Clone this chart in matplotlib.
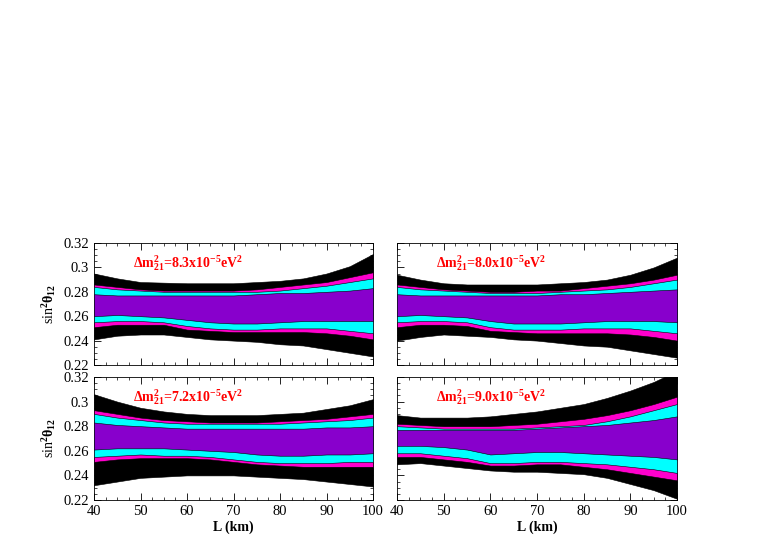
import matplotlib
matplotlib.use("Agg")
import matplotlib.pyplot as plt
from matplotlib.ticker import MultipleLocator

plt.rcParams["font.family"] = "Liberation Serif"
plt.rcParams["mathtext.fontset"] = "custom"
plt.rcParams["mathtext.rm"] = "Liberation Serif:bold"
plt.rcParams["mathtext.it"] = "Liberation Serif:bold"
plt.rcParams["mathtext.bf"] = "Liberation Serif:bold"

L = [40, 45, 50, 55, 60, 65, 70, 75, 80, 85, 90, 95, 100]

labels = ["8.3", "8.0", "7.2", "9.0"]

# each panel: black_top, mag_top, cyan_top, purple_top, purple_bot, cyan_bot, mag_bot, black_bot
p83 = [
    [0.295, 0.291, 0.288, 0.2875, 0.287, 0.287, 0.287, 0.288, 0.289, 0.291, 0.295, 0.301, 0.311],
    [0.286, 0.284, 0.282, 0.281, 0.281, 0.281, 0.281, 0.282, 0.284, 0.286, 0.288, 0.292, 0.296],
    [0.284, 0.282, 0.281, 0.280, 0.280, 0.280, 0.280, 0.280, 0.281, 0.283, 0.285, 0.288, 0.291],
    [0.278, 0.277, 0.277, 0.277, 0.277, 0.277, 0.277, 0.278, 0.279, 0.279, 0.280, 0.281, 0.283],
    [0.260, 0.261, 0.260, 0.259, 0.257, 0.255, 0.254, 0.254, 0.255, 0.256, 0.256, 0.256, 0.256],
    [0.255, 0.256, 0.256, 0.255, 0.252, 0.250, 0.249, 0.249, 0.250, 0.250, 0.250, 0.248, 0.246],
    [0.251, 0.253, 0.253, 0.253, 0.249, 0.248, 0.247, 0.247, 0.247, 0.247, 0.246, 0.244, 0.241],
    [0.241, 0.244, 0.245, 0.245, 0.243, 0.241, 0.240, 0.239, 0.237, 0.236, 0.233, 0.230, 0.227],
]
p80 = [
    [0.294, 0.290, 0.287, 0.286, 0.286, 0.286, 0.286, 0.287, 0.288, 0.290, 0.294, 0.300, 0.308],
    [0.286, 0.284, 0.282, 0.281, 0.280, 0.280, 0.281, 0.281, 0.283, 0.285, 0.287, 0.290, 0.294],
    [0.284, 0.282, 0.281, 0.280, 0.279, 0.279, 0.279, 0.280, 0.281, 0.282, 0.284, 0.287, 0.290],
    [0.278, 0.277, 0.277, 0.277, 0.277, 0.277, 0.277, 0.278, 0.278, 0.279, 0.280, 0.281, 0.282],
    [0.260, 0.261, 0.260, 0.259, 0.256, 0.254, 0.254, 0.254, 0.255, 0.256, 0.256, 0.256, 0.255],
    [0.255, 0.256, 0.256, 0.255, 0.251, 0.249, 0.249, 0.249, 0.250, 0.250, 0.250, 0.248, 0.246],
    [0.251, 0.253, 0.253, 0.252, 0.248, 0.247, 0.246, 0.246, 0.246, 0.246, 0.245, 0.243, 0.240],
    [0.240, 0.243, 0.245, 0.244, 0.243, 0.241, 0.240, 0.238, 0.236, 0.235, 0.232, 0.229, 0.226],
]
p72 = [
    [0.306, 0.300, 0.295, 0.292, 0.290, 0.289, 0.289, 0.289, 0.290, 0.291, 0.294, 0.297, 0.302],
    [0.293, 0.290, 0.287, 0.285, 0.284, 0.283, 0.283, 0.283, 0.284, 0.285, 0.286, 0.288, 0.290],
    [0.290, 0.287, 0.285, 0.283, 0.282, 0.282, 0.282, 0.282, 0.282, 0.283, 0.284, 0.285, 0.287],
    [0.283, 0.281, 0.280, 0.279, 0.278, 0.278, 0.278, 0.278, 0.278, 0.278, 0.279, 0.279, 0.280],
    [0.261, 0.262, 0.262, 0.262, 0.261, 0.260, 0.259, 0.257, 0.256, 0.256, 0.257, 0.257, 0.258],
    [0.255, 0.256, 0.257, 0.256, 0.256, 0.255, 0.253, 0.251, 0.250, 0.250, 0.250, 0.251, 0.251],
    [0.251, 0.253, 0.254, 0.254, 0.254, 0.253, 0.251, 0.249, 0.248, 0.247, 0.247, 0.247, 0.247],
    [0.232, 0.235, 0.238, 0.239, 0.240, 0.240, 0.240, 0.239, 0.238, 0.237, 0.235, 0.233, 0.231],
]
p90 = [
    [0.289, 0.287, 0.287, 0.287, 0.288, 0.290, 0.292, 0.295, 0.298, 0.303, 0.309, 0.316, 0.325],
    [0.282, 0.281, 0.280, 0.280, 0.280, 0.281, 0.282, 0.284, 0.286, 0.289, 0.293, 0.298, 0.304],
    [0.280, 0.279, 0.278, 0.278, 0.278, 0.278, 0.279, 0.280, 0.281, 0.284, 0.288, 0.293, 0.298],
    [0.277, 0.277, 0.277, 0.277, 0.277, 0.277, 0.278, 0.279, 0.280, 0.281, 0.283, 0.285, 0.288],
    [0.264, 0.264, 0.263, 0.261, 0.257, 0.258, 0.259, 0.259, 0.258, 0.257, 0.256, 0.255, 0.253],
    [0.258, 0.258, 0.256, 0.254, 0.250, 0.250, 0.251, 0.251, 0.250, 0.249, 0.247, 0.245, 0.242],
    [0.255, 0.255, 0.253, 0.251, 0.248, 0.248, 0.249, 0.249, 0.247, 0.245, 0.242, 0.239, 0.236],
    [0.249, 0.250, 0.248, 0.246, 0.244, 0.243, 0.243, 0.242, 0.241, 0.238, 0.233, 0.228, 0.221],
]
panels = [p83, p80, p72, p90]

colors = ["black", "#FF00CC", "#00FFFF", "#8800CC"]

W, H = 763, 545
fig = plt.figure(figsize=(W / 100, H / 100), dpi=100)
fig.patch.set_facecolor("white")

boxes = [(94, 243, 373, 365), (397, 243, 677, 365),
         (94, 377, 373, 500), (397, 377, 677, 500)]

for i, (data, lab, (x0, y0, x1, y1)) in enumerate(zip(panels, labels, boxes)):
    ax = fig.add_axes([x0 / W, 1 - y1 / H, (x1 - x0) / W, (y1 - y0) / H])
    for k, c in enumerate(colors):
        ax.fill_between(L, data[k], data[7 - k], color=c, lw=0.4, edgecolor="black", zorder=2 + k)
    ax.set_xlim(40, 100)
    ax.set_ylim(0.22, 0.32)
    ax.xaxis.set_major_locator(MultipleLocator(10))
    ax.xaxis.set_minor_locator(MultipleLocator(2.5))
    ax.yaxis.set_major_locator(MultipleLocator(0.02))
    ax.yaxis.set_minor_locator(MultipleLocator(0.005))
    ax.tick_params(which="both", direction="in", top=True, right=True, labelsize=10.5)
    ax.tick_params(which="major", length=5, width=0.6)
    ax.tick_params(which="minor", length=2.5, width=0.5)
    for s in ax.spines.values():
        s.set_linewidth(0.6)
    ax.yaxis.set_major_formatter(plt.FuncFormatter(lambda v, p: ("%.2f" % v).rstrip("0")))
    if i < 2:
        ax.set_xticklabels([])
    else:
        ax.set_xlabel("L (km)", fontsize=10, fontweight="bold", labelpad=2)
    if i % 2 == 1:
        ax.set_yticklabels([])
    else:
        ax.set_ylabel(r"sin$^2\theta_{12}$", fontsize=10, labelpad=4)
    ax.text(0.14, 0.8, r"$\Delta$m$^{2}_{21}$=%sx10$^{-5}$eV$^{2}$" % lab,
            transform=ax.transAxes, color="red", fontsize=10, fontweight="bold", zorder=10)

fig.savefig("out.png", dpi=100, facecolor="white")
